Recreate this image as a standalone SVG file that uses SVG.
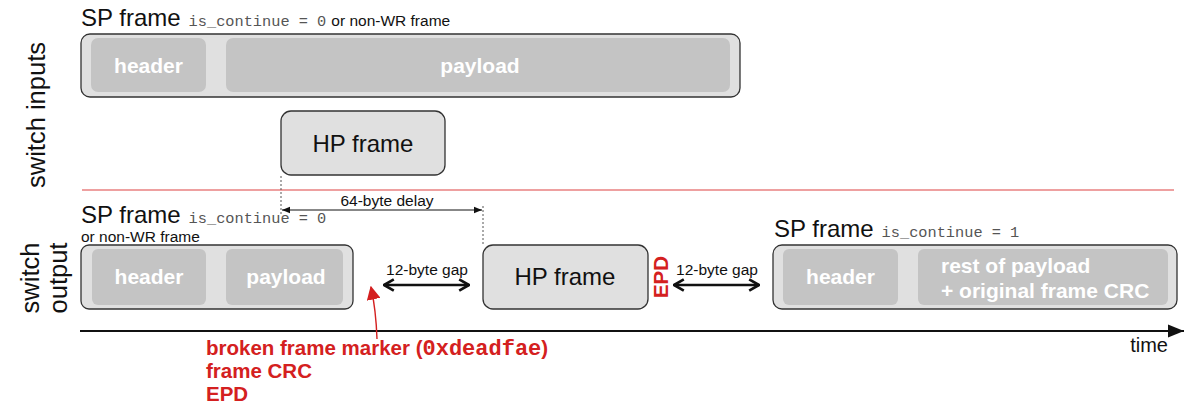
<svg xmlns="http://www.w3.org/2000/svg" width="1186" height="407" viewBox="0 0 1186 407">
<style>
.frame{fill:#e0e0e0;stroke:#333;stroke-width:1.3}
.inner{fill:#c4c4c4}
.title{font-family:"Liberation Sans",Arial,sans-serif;font-size:24px;fill:#111}
.mono{font-family:"Liberation Mono","Courier New",monospace;font-size:15.3px;fill:#555}
.small{font-family:"Liberation Sans",Arial,sans-serif;font-size:15.5px;fill:#111}
.lbl{font-family:"Liberation Sans",Arial,sans-serif;font-size:21px;font-weight:bold;fill:#fff}
.hp{font-family:"Liberation Sans",Arial,sans-serif;font-size:24px;fill:#111;text-anchor:middle}
.side{font-family:"Liberation Sans",Arial,sans-serif;font-size:25.5px;fill:#111;text-anchor:middle}
.red{font-family:"Liberation Sans",Arial,sans-serif;font-size:20.5px;font-weight:bold;fill:#d42020}
.dot{stroke:#555;stroke-width:1;stroke-dasharray:2,2;fill:none}
.gap{stroke:#111;stroke-width:2.5;fill:none}
</style>
<defs>
<marker id="sa" viewBox="0 0 10 10" refX="10" refY="5" markerWidth="8" markerHeight="8" orient="auto-start-reverse" markerUnits="userSpaceOnUse"><path d="M0,1 L10,5 L0,9 z" fill="#111"/></marker>
<marker id="chev" viewBox="0 0 10 10" refX="9" refY="5" markerWidth="14" markerHeight="14" orient="auto-start-reverse" markerUnits="userSpaceOnUse"><path d="M2,1 L9,5 L2,9" fill="none" stroke="#111" stroke-width="1.9"/></marker>
<marker id="big" viewBox="0 0 10 10" refX="10" refY="5" markerWidth="16" markerHeight="16" orient="auto" markerUnits="userSpaceOnUse"><path d="M0,1 L10,5 L0,9 z" fill="#111"/></marker>
<marker id="ra" viewBox="0 0 10 10" refX="9" refY="5" markerWidth="14" markerHeight="14" orient="auto" markerUnits="userSpaceOnUse"><path d="M0,0 L10,5 L0,10 z" fill="#d42020"/></marker>
</defs>

<text class="side" transform="translate(45,115) rotate(-90)">switch inputs</text>
<text class="side" transform="translate(39,278) rotate(-90)">switch</text>
<text class="side" transform="translate(67,278) rotate(-90)">output</text>

<line x1="82" y1="190" x2="1174" y2="190" stroke="#e88080" stroke-width="1.3"/>

<g id="sp-in">
<text x="81" y="26"><tspan class="title">SP frame</tspan><tspan class="mono" dx="8">is_continue = 0</tspan><tspan class="small" dx="5">or non-WR frame</tspan></text>
<rect class="frame" x="81" y="34" width="659" height="63" rx="9"/>
<rect class="inner" x="91" y="38" width="115" height="54" rx="7"/>
<rect class="inner" x="226" y="38" width="504" height="54" rx="7"/>
<text class="lbl" x="148.5" y="73" text-anchor="middle">header</text>
<text class="lbl" x="480" y="73" text-anchor="middle">payload</text>
</g>

<g id="hp-in">
<rect class="frame" x="281" y="111" width="164" height="64" rx="10"/>
<text class="hp" x="363" y="152">HP frame</text>
</g>

<g id="sp-out1">
<text x="81" y="223"><tspan class="title">SP frame</tspan><tspan class="mono" dx="8">is_continue = 0</tspan></text>
<text class="small" x="81" y="242">or non-WR frame</text>
<rect class="frame" x="81" y="245" width="272" height="64" rx="8"/>
<rect class="inner" x="92" y="249" width="114" height="56" rx="6"/>
<rect class="inner" x="226" y="249" width="117" height="56" rx="6"/>
<text class="lbl" x="149" y="284" text-anchor="middle">header</text>
<text class="lbl" x="286" y="284" text-anchor="middle">payload</text>
</g>

<g id="hp-out">
<rect class="frame" x="483" y="245" width="165" height="64" rx="10"/>
<text class="hp" x="565" y="285">HP frame</text>
</g>

<g id="epd">
<text class="red" transform="translate(668,277) rotate(-90)" text-anchor="middle">EPD</text>
</g>

<g id="sp-out2">
<text x="774" y="237"><tspan class="title">SP frame</tspan><tspan class="mono" dx="8">is_continue = 1</tspan></text>
<rect class="frame" x="773" y="245" width="404" height="64" rx="9"/>
<rect class="inner" x="783" y="249" width="115" height="56" rx="6"/>
<rect class="inner" x="918" y="249" width="250" height="56" rx="6"/>
<text class="lbl" x="840.5" y="284" text-anchor="middle">header</text>
<text class="lbl" x="941" y="273">rest of payload</text>
<text class="lbl" x="941" y="298">+ original frame CRC</text>
</g>

<g id="notes">
<text class="red" x="206" y="355">broken frame marker (<tspan font-family="'Liberation Mono','Courier New',monospace" font-size="22">0xdeadfae</tspan>)</text>
<text class="red" x="206" y="378">frame CRC</text>
<text class="red" x="206" y="401">EPD</text>
<text class="small" x="387" y="206" text-anchor="middle">64-byte delay</text>
<text class="small" x="427" y="275" text-anchor="middle">12-byte gap</text>
<text class="small" x="717" y="275" text-anchor="middle">12-byte gap</text>
<text x="1168" y="352" font-family="'Liberation Sans',Arial,sans-serif" font-size="20" fill="#111" text-anchor="end">time</text>
</g>

<g id="connectors">
<line class="dot" x1="281" y1="176" x2="281" y2="214"/>
<line class="dot" x1="483" y1="206" x2="483" y2="245"/>
<line x1="282" y1="210" x2="482" y2="210" stroke="#111" stroke-width="1" marker-start="url(#sa)" marker-end="url(#sa)"/>
<line class="gap" x1="384" y1="285" x2="469" y2="285" marker-start="url(#chev)" marker-end="url(#chev)"/>
<line class="gap" x1="674" y1="285" x2="759" y2="285" marker-start="url(#chev)" marker-end="url(#chev)"/>
<line x1="80" y1="331" x2="1184" y2="331" stroke="#111" stroke-width="2.2" marker-end="url(#big)"/>
<path d="M377,339 Q376,310 371,287" fill="none" stroke="#d42020" stroke-width="1.4" marker-end="url(#ra)"/>
</g>
</svg>
